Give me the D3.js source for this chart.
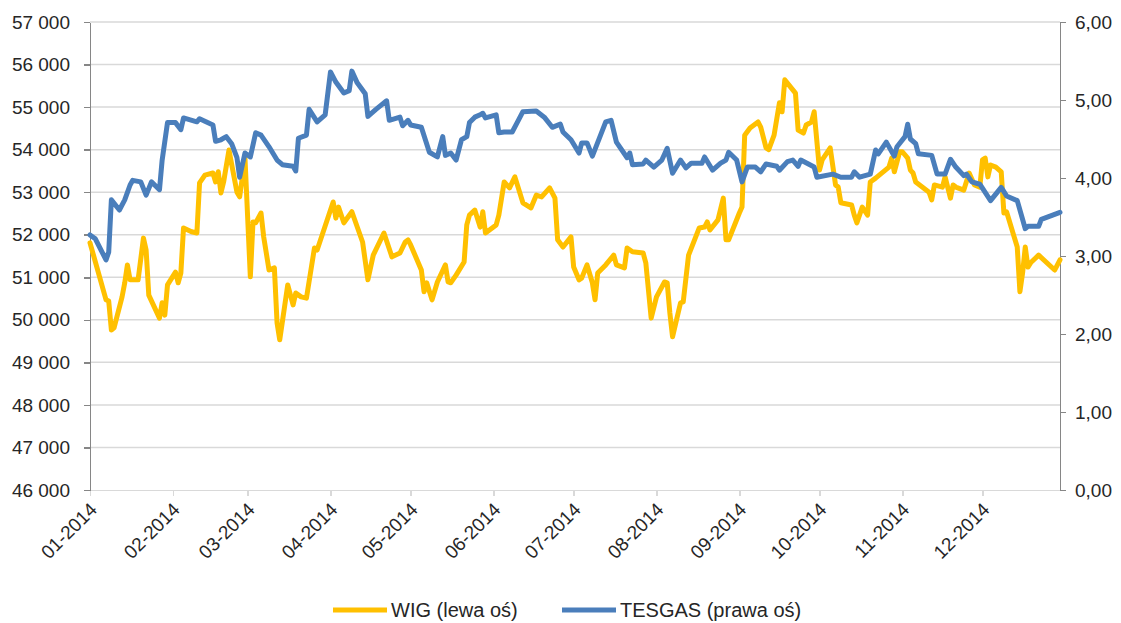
<!DOCTYPE html>
<html>
<head>
<meta charset="utf-8">
<script src="https://cdn.jsdelivr.net/npm/d3@7"></script>
<style>
  body { margin: 0; background: #fff; }
  svg text { font-family: "Liberation Sans", Arial, sans-serif; fill: #262626; }
</style>
</head>
<body>
<svg id="chart" width="1121" height="623"></svg>
<script>
// WIG (left axis)
const wigDates = [
  "01-01","01-07","01-08","01-09","01-10","01-13","01-14","01-15","01-16","01-19",
  "01-21","01-22","01-23","01-27","01-28","01-29","01-30","02-02","02-03","02-04",
  "02-05","02-08","02-10","02-11","02-13","02-16","02-17","02-18","02-19","02-20",
  "02-22","02-25","02-26","02-28","03-02","03-03","03-04","03-06","03-07","03-09",
  "03-11","03-12","03-13","03-16","03-18","03-19","03-21","03-23","03-26","03-27",
  "04-02","04-03","04-04","04-06","04-09","04-13","04-15","04-17","04-21","04-24",
  "04-27","04-29","04-30","05-01","05-05","05-06","05-07","05-09","05-11","05-14",
  "05-15","05-16","05-18","05-21","05-22","05-23","05-25","05-27","05-28","05-29",
  "06-02","06-03","06-05","06-07","06-09","06-12","06-15","06-17","06-19","06-22",
  "06-24","06-25","06-27","06-30","07-01","07-03","07-04","07-06","07-08","07-09",
  "07-10","07-13","07-16","07-17","07-20","07-21","07-23","07-27","07-28","07-30",
  "08-01","08-04","08-05","08-06","08-07","08-10","08-11","08-13","08-17","08-19",
  "08-20","08-21","08-24","08-26","08-27","08-28","09-01","09-02","09-03","09-05",
  "09-08","09-09","09-11","09-12","09-14","09-16","09-17","09-18","09-22","09-23",
  "09-25","09-26","09-28","09-29","10-01","10-02","10-05","10-07","10-08","10-09",
  "10-13","10-14","10-15","10-17","10-19","10-20","10-22","10-27","10-28","10-29",
  "10-31","11-01","11-03","11-04","11-05","11-06","11-11","11-12","11-13","11-16",
  "11-17","11-19","11-20","11-21","11-24","11-26","11-28","11-30","12-01","12-02",
  "12-03","12-04","12-06","12-08","12-09","12-10","12-14","12-15","12-16","12-17",
  "12-18","12-19","12-22","12-28","12-30"
];
const wigValues = [
  51810,50470,50440,49760,49810,50540,50870,51290,50940,50940,
  51920,51640,50580,50040,50400,50110,50820,51120,50870,51100,
  52160,52070,52040,53220,53400,53450,53240,53480,52980,53240,
  53990,53000,52890,53800,51010,52300,52280,52510,51950,51170,
  51220,49930,49530,50820,50350,50630,50540,50510,51690,51640,
  52770,52390,52650,52280,52540,51830,50940,51520,52040,51480,
  51570,51830,51880,51760,51170,50660,50870,50470,50890,51290,
  50890,50870,51050,51360,52230,52460,52580,52180,52540,52040,
  52230,52460,53240,53100,53360,52750,52630,52930,52890,53100,
  52860,51880,51710,51950,51240,50940,50980,51290,50870,50470,
  51100,51290,51520,51290,51220,51690,51600,51570,51340,50040,
  50540,50890,50870,50160,49600,50400,50420,51520,52160,52180,
  52300,52110,52350,52860,51880,51880,52510,52650,54340,54510,
  54650,54530,54040,54000,54340,55100,54890,55640,55330,54460,
  54390,54580,54650,54890,53520,53760,54040,53170,53120,52750,
  52700,52460,52280,52650,52460,53240,53330,53590,53800,53480,
  53950,53950,53800,53520,53450,53240,53000,52820,53170,53120,
  53360,52860,53170,53120,53050,53450,53170,53120,53760,53800,
  53360,53640,53590,53480,52510,52540,51710,50660,51100,51710,
  51240,51340,51520,51170,51410
];

// TESGAS (right axis)
const tesDates = [
  "01-01","01-03","01-07","01-08","01-09","01-12","01-14","01-16","01-17","01-20",
  "01-22","01-24","01-27","01-28","01-30","02-02","02-04","02-05","02-10","02-11",
  "02-16","02-17","02-19","02-21","02-23","02-25","02-26","02-28","03-02","03-04",
  "03-06","03-09","03-12","03-14","03-18","03-19","03-20","03-23","03-24","03-27",
  "03-30","04-01","04-03","04-06","04-08","04-09","04-11","04-14","04-15","04-18",
  "04-22","04-23","04-27","04-28","04-30","05-01","05-05","05-08","05-11","05-13",
  "05-14","05-16","05-18","05-20","05-22","05-23","05-25","05-27","05-28","05-29",
  "06-02","06-03","06-05","06-08","06-10","06-12","06-17","06-20","06-23","06-26",
  "06-27","06-30","07-03","07-04","07-06","07-08","07-13","07-15","07-17","07-21",
  "07-22","07-23","07-27","07-28","07-31","08-03","08-05","08-07","08-10","08-12",
  "08-14","08-18","08-19","08-22","08-25","08-27","08-28","08-31","09-02","09-04",
  "09-07","09-09","09-11","09-15","09-16","09-19","09-21","09-23","09-24","09-29",
  "09-30","10-06","10-09","10-13","10-14","10-16","10-20","10-22","10-23","10-26",
  "10-29","10-30","11-02","11-03","11-04","11-06","11-07","11-12","11-14","11-17",
  "11-19","11-21","11-24","11-25","11-27","11-30","12-04","12-08","12-10","12-14",
  "12-17","12-18","12-22","12-23","12-30"
];
const tesValues = [
  3.27,3.22,2.95,3.05,3.72,3.59,3.72,3.91,3.97,3.95,
  3.78,3.95,3.85,4.23,4.71,4.71,4.62,4.77,4.72,4.76,
  4.68,4.47,4.49,4.53,4.44,4.26,4.01,4.32,4.27,4.58,
  4.55,4.40,4.23,4.17,4.15,4.09,4.51,4.55,4.88,4.72,
  4.81,5.36,5.23,5.09,5.12,5.37,5.22,5.08,4.79,4.88,
  4.99,4.74,4.78,4.67,4.74,4.68,4.65,4.33,4.27,4.53,
  4.29,4.32,4.23,4.49,4.53,4.71,4.78,4.81,4.83,4.77,
  4.81,4.58,4.59,4.59,4.72,4.85,4.86,4.78,4.65,4.69,
  4.59,4.49,4.32,4.45,4.45,4.28,4.72,4.74,4.46,4.26,
  4.32,4.17,4.18,4.23,4.14,4.23,4.38,4.06,4.23,4.13,
  4.19,4.19,4.27,4.10,4.19,4.23,4.33,4.23,3.95,4.14,
  4.14,4.08,4.18,4.15,4.10,4.21,4.23,4.15,4.23,4.14,
  4.01,4.05,4.01,4.01,4.08,4.01,4.05,4.36,4.31,4.46,
  4.28,4.40,4.53,4.69,4.50,4.44,4.31,4.29,4.05,4.05,
  4.24,4.14,4.03,4.05,3.95,3.92,3.71,3.88,3.77,3.71,
  3.35,3.38,3.38,3.47,3.56
];

const leftTicks = [46000,47000,48000,49000,50000,51000,52000,53000,54000,55000,56000,57000];
const rightTicks = [0,1,2,3,4,5,6];
const monthTicks = ["01-01","02-01","03-01","04-01","05-01","06-01","07-01","08-01","09-01","10-01","11-01","12-01"];
const seriesNames = ["WIG (lewa oś)", "TESGAS (prawa oś)"];

const parse = d3.timeParse("%Y-%m-%d");
const day = s => parse("2014-" + s);

const pl = d3.formatLocale({ decimal: ",", thousands: " ", grouping: [3], currency: ["", ""] });

const plot = { left: 90, right: 1060, top: 22, bottom: 490 };

const x = d3.scaleTime()
    .domain([day("01-01"), day("12-30")])
    .range([plot.left, plot.right]);
const yL = d3.scaleLinear().domain([46000, 57000]).range([plot.bottom, plot.top]);
const yR = d3.scaleLinear().domain([0, 6]).range([plot.bottom, plot.top]);

const svg = d3.select("#chart");

// gridlines
svg.append("g")
  .selectAll("line")
  .data(leftTicks.slice(1))
  .enter().append("line")
    .attr("x1", plot.left).attr("x2", plot.right)
    .attr("y1", d => yL(d)).attr("y2", d => yL(d))
    .attr("stroke", "#d9d9d9")
    .attr("stroke-width", 1.5);

// x axis
const xAxis = svg.append("g")
    .attr("transform", "translate(0," + plot.bottom + ")")
    .call(d3.axisBottom(x)
      .tickValues(monthTicks.map(day))
      .tickSize(6).tickSizeOuter(0)
      .tickFormat(d3.timeFormat("%m-%Y")));
xAxis.select(".domain").attr("stroke", "#d9d9d9").attr("stroke-width", 1.5);
xAxis.selectAll(".tick line").attr("stroke", "#d9d9d9").attr("stroke-width", 1.5);
xAxis.selectAll(".tick text")
    .attr("y", 0).attr("dy", "0.35em")
    .attr("text-anchor", "end")
    .attr("transform", "translate(3,16) rotate(-45)")
    .style("font-size", "19px");

// left axis
const yAxisL = svg.append("g")
    .attr("transform", "translate(" + plot.left + ",0)")
    .call(d3.axisLeft(yL)
      .tickValues(leftTicks)
      .tickSize(6).tickSizeOuter(0).tickPadding(14)
      .tickFormat(pl.format(",d")));
yAxisL.select(".domain").attr("stroke", "#868686").attr("stroke-width", 1.5);
yAxisL.selectAll(".tick line").attr("stroke", "#868686").attr("stroke-width", 1.5);
yAxisL.selectAll(".tick text").style("font-size", "19px");

// right axis
const yAxisR = svg.append("g")
    .attr("transform", "translate(" + plot.right + ",0)")
    .call(d3.axisRight(yR)
      .tickValues(rightTicks)
      .tickSize(6).tickSizeOuter(0).tickPadding(9)
      .tickFormat(pl.format(".2f")));
yAxisR.select(".domain").attr("stroke", "#868686").attr("stroke-width", 1.5);
yAxisR.selectAll(".tick line").attr("stroke", "#868686").attr("stroke-width", 1.5);
yAxisR.selectAll(".tick text").style("font-size", "19px");

svg.selectAll(".domain, .tick line").attr("shape-rendering", "crispEdges");

// series
const wig = wigDates.map((d, i) => ({ date: day(d), v: wigValues[i] }));
const tes = tesDates.map((d, i) => ({ date: day(d), v: tesValues[i] }));

svg.append("path")
    .datum(wig)
    .attr("fill", "none")
    .attr("stroke", "#ffc000")
    .attr("stroke-width", 5)
    .attr("stroke-linejoin", "round")
    .attr("stroke-linecap", "round")
    .attr("d", d3.line().x(d => x(d.date)).y(d => yL(d.v)));

svg.append("path")
    .datum(tes)
    .attr("fill", "none")
    .attr("stroke", "#4a7ebb")
    .attr("stroke-width", 5)
    .attr("stroke-linejoin", "round")
    .attr("stroke-linecap", "round")
    .attr("d", d3.line().x(d => x(d.date)).y(d => yR(d.v)));

// legend
const legend = svg.append("g").attr("transform", "translate(0,610)");
const legendItems = [
  { name: seriesNames[0], color: "#ffc000", x: 333 },
  { name: seriesNames[1], color: "#4a7ebb", x: 562 }
];
legendItems.forEach(it => {
  legend.append("line")
      .attr("x1", it.x).attr("x2", it.x + 54)
      .attr("y1", 0).attr("y2", 0)
      .attr("stroke", it.color)
      .attr("stroke-width", 5);
  legend.append("text")
      .attr("x", it.x + 58).attr("y", 0).attr("dy", "0.35em")
      .style("font-size", "20px")
      .text(it.name);
});
</script>
</body>
</html>
